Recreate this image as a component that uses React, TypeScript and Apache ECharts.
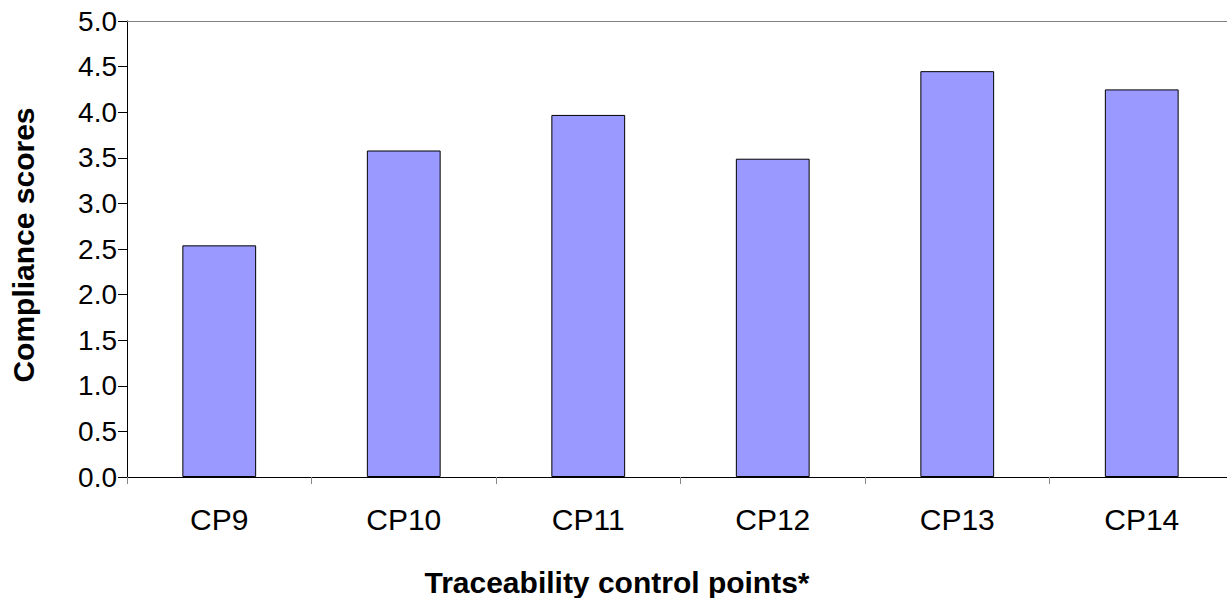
import React, { useEffect, useRef } from "react";
import * as echarts from "echarts";

const categories = ["CP9", "CP10", "CP11", "CP12", "CP13", "CP14"];
const scores = [2.54, 3.58, 3.97, 3.49, 4.45, 4.25];
const yTicks = { min: 0, max: 5, interval: 0.5 };
const yTitle = "Compliance scores";
const xTitle = "Traceability control points*";

export default function App() {
  const ref = useRef<HTMLDivElement>(null);
  useEffect(() => {
    if (!ref.current) return;
    const chart = echarts.init(ref.current, null, { renderer: "svg" });
    const font = "'Liberation Sans', Arial, sans-serif";
    chart.setOption({
      animation: false,
      backgroundColor: "#ffffff",
      grid: { left: 127, right: 0, top: 21, bottom: 121, containLabel: false },
      xAxis: [
        {
          type: "category",
          data: categories,
          position: "bottom",
          axisLine: { lineStyle: { color: "#000", width: 1 } },
          axisTick: { show: true, length: 7, inside: false, lineStyle: { color: "#888" } },
          axisLabel: { color: "#000", fontFamily: font, fontSize: 30, margin: 27 },
          splitLine: { show: false },
        },
        {
          type: "category",
          data: categories,
          position: "top",
          axisLine: { lineStyle: { color: "#808080", width: 1 } },
          axisTick: { show: false },
          axisLabel: { show: false },
          splitLine: { show: false },
        },
      ],
      yAxis: {
        type: "value",
        min: yTicks.min,
        max: yTicks.max,
        interval: yTicks.interval,
        axisLine: { show: true, lineStyle: { color: "#000", width: 1 } },
        axisTick: { show: true, length: 9, lineStyle: { color: "#000" } },
        axisLabel: {
          color: "#000",
          fontFamily: font,
          fontSize: 28,
          margin: 10,
          formatter: (v: number) => v.toFixed(1),
        },
        splitLine: { show: false },
      },
      series: [
        {
          type: "bar",
          data: scores,
          barWidth: "40%",
          itemStyle: { color: "#9999FF", borderColor: "#000", borderWidth: 1 },
        },
      ],
      graphic: [
        {
          type: "text",
          x: 23,
          y: 245,
          rotation: Math.PI / 2,
          style: {
            text: yTitle,
            font: `bold 30px ${font}`,
            fill: "#000",
            align: "center",
            verticalAlign: "middle",
          },
        },
        {
          type: "text",
          x: 617,
          y: 582,
          style: {
            text: xTitle,
            font: `bold 30px ${font}`,
            fill: "#000",
            align: "center",
            verticalAlign: "middle",
          },
        },
      ],
    });
    return () => chart.dispose();
  }, []);
  return (
    <div style={{ position: "fixed", left: 0, top: 0, width: 1227, height: 598, overflow: "hidden", background: "#fff" }}>
      <div ref={ref} style={{ width: 1234, height: 598 }} />
    </div>
  );
}
